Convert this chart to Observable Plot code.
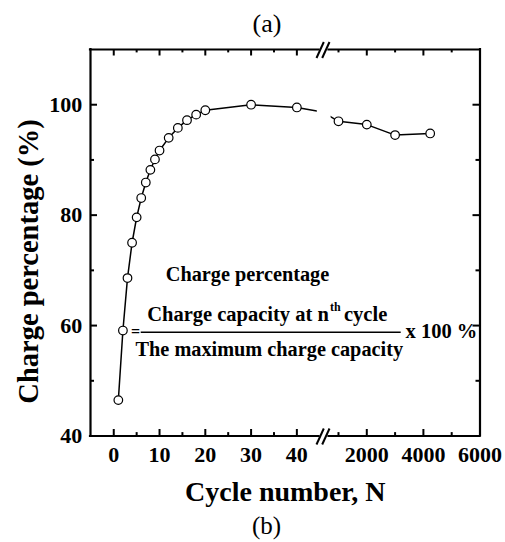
<!DOCTYPE html>
<html>
<head>
<meta charset="utf-8">
<script src="https://cdn.jsdelivr.net/npm/d3@7"></script>
<script src="https://cdn.jsdelivr.net/npm/@observablehq/plot@0.6"></script>
<style>
  html, body { margin: 0; padding: 0; background: #fff; }
</style>
</head>
<body>
<div id="chart"></div>
<script>
// ---- data ----
const cycles = [1, 2, 3, 4, 5, 6, 7, 8, 9, 10, 12, 14, 16, 18, 20, 30, 40, 100, 1000, 2000, 3000, 4240];
const charge = [46.5, 59.1, 68.6, 75.0, 79.6, 83.1, 85.9, 88.2, 90.1, 91.7, 94.0, 95.8, 97.2, 98.2, 99.0, 100.0, 99.5, 98.7, 97.0, 96.4, 94.5, 94.8];
const xMajorTicks = [0, 10, 20, 30, 40, 2000, 4000];
const xMinorTicks = [5, 15, 25, 35, 1000, 3000, 5000];
const xTickLabels = [0, 10, 20, 30, 40, 2000, 4000, 6000];
const yMajorTicks = [60, 80, 100];
const yMinorTicks = [50, 70, 90];
const yTickLabels = [40, 60, 80, 100];
const xTitle = "Cycle number, N";
const yTitle = "Charge percentage (%)";

const rows = cycles.map((c, i) => ({cycle: c, charge: charge[i]}));

// ---- broken (piecewise) x scale ----
const W = 505, H = 542;
const mL = 90, mR = 25.5, mT = 49, mB = 106.5;
const breakPx = 322;
const xDomain = [-5.08, 45.6, 435, 6000];
const xRange = [mL, breakPx, breakPx, W - mR];
const yDomain = [40, 110];
const yRange = [H - mB, mT];
const X = d3.scaleLinear().domain(xDomain).range(xRange);
const Y = d3.scaleLinear().domain(yDomain).range(yRange);
const xMin = xDomain[0], xMax = xDomain[3];
const fx = px => X.invert(px);
const fy = py => Y.invert(py);

const serif = "'Liberation Serif', 'Times New Roman', serif";
const K = "black";

// tick lengths
const majX = 6.5, minX = 3.4, majY = 7, minY = 4;

const slashes = [
  // bottom
  {x1: fx(316), y1: fy(H - mB + 8.5), x2: fx(323.3), y2: fy(H - mB - 7.5)},
  {x1: fx(321.7), y1: fy(H - mB + 8.5), x2: fx(329), y2: fy(H - mB - 7.5)},
  // top
  {x1: fx(316), y1: fy(mT + 8.5), x2: fx(323.3), y2: fy(mT - 7.5)},
  {x1: fx(321.7), y1: fy(mT + 8.5), x2: fx(329), y2: fy(mT - 7.5)}
];

const chart = Plot.plot({
  width: W,
  height: H,
  marginLeft: mL, marginRight: mR, marginTop: mT, marginBottom: mB,
  style: {fontFamily: serif, background: "white", color: K, overflow: "visible"},
  x: {type: "linear", domain: xDomain, range: xRange, axis: null},
  y: {type: "linear", domain: yDomain, range: yRange, axis: null},
  marks: [
    // series
    Plot.line(rows, {x: "cycle", y: "charge", stroke: K, strokeWidth: 1.5}),
    Plot.dot(rows, {x: "cycle", y: "charge", r: 4.3, fill: "white", stroke: K, strokeWidth: 1.2}),
    // axis-break gap
    Plot.rect([0], {x1: fx(316.8), x2: fx(330.6), y1: fy(130), y2: fy(90), fill: "white"}),

    // frame
    Plot.ruleX([xMin, xMax], {stroke: K, strokeWidth: 2.2, strokeLinecap: "square"}),
    Plot.ruleY(yDomain, {x1: xMin, x2: fx(318.5), stroke: K, strokeWidth: 2.2, strokeLinecap: "square"}),
    Plot.ruleY(yDomain, {x1: fx(328.5), x2: xMax, stroke: K, strokeWidth: 2.2, strokeLinecap: "square"}),
    Plot.link(slashes, {x1: "x1", y1: "y1", x2: "x2", y2: "y2", stroke: K, strokeWidth: 2}),

    // x ticks (inward, bottom and top)
    Plot.ruleX(xMajorTicks, {y1: 40, y2: fy(H - mB - majX), stroke: K, strokeWidth: 2}),
    Plot.ruleX(xMinorTicks, {y1: 40, y2: fy(H - mB - minX), stroke: K, strokeWidth: 2}),
    Plot.ruleX(xMajorTicks, {y1: 110, y2: fy(mT + majX), stroke: K, strokeWidth: 2}),
    Plot.ruleX(xMinorTicks, {y1: 110, y2: fy(mT + minX), stroke: K, strokeWidth: 2}),
    // y ticks (inward, left and right)
    Plot.ruleY(yMajorTicks, {x1: xMin, x2: fx(mL + majY), stroke: K, strokeWidth: 2}),
    Plot.ruleY(yMinorTicks, {x1: xMin, x2: fx(mL + minY), stroke: K, strokeWidth: 2}),
    Plot.ruleY(yMajorTicks, {x1: fx(W - mR - majY), x2: xMax, stroke: K, strokeWidth: 2}),
    Plot.ruleY(yMinorTicks, {x1: fx(W - mR - minY), x2: xMax, stroke: K, strokeWidth: 2}),

    // tick labels
    Plot.text(xTickLabels, {x: d => d, y: 40, text: d => String(d), dy: 26, lineAnchor: "bottom",
      textAnchor: "middle", fontSize: 22, fontWeight: "bold", fill: K}),
    Plot.text(yTickLabels, {x: xMin, y: d => d, text: d => String(d), dx: -8.3, textAnchor: "end",
      lineAnchor: "middle", fontSize: 22, fontWeight: "bold", fill: K}),

    // axis titles
    Plot.text([xTitle], {frameAnchor: "bottom", dy: 64.5, lineAnchor: "bottom", text: d => d,
      fontSize: 28, fontWeight: "bold", fill: K}),
    Plot.text([yTitle], {x: fx(37.5), y: fy(261), rotate: -90, lineAnchor: "bottom", textAnchor: "middle",
      text: d => d, fontSize: 28.5, fontWeight: "bold", fill: K}),

    // panel labels
    Plot.text(["(a)"], {x: fx(266.5), y: fy(31), lineAnchor: "bottom", text: d => d,
      fontSize: 26, fill: K}),
    Plot.text(["(b)"], {x: fx(266), y: fy(533.5), lineAnchor: "bottom", text: d => d,
      fontSize: 25, fill: K}),

    // formula annotation
    Plot.text(["Charge percentage"], {x: fx(247), y: fy(280.7), lineAnchor: "bottom", textAnchor: "middle",
      text: d => d, fontSize: 20.3, fontWeight: "bold", fill: K}),
    Plot.text(["Charge capacity at n"], {x: fx(146.7), y: fy(320.7), lineAnchor: "bottom", textAnchor: "start",
      text: d => d, fontSize: 20.5, fontWeight: "bold", fill: K}),
    Plot.text(["th"], {x: fx(146.7), y: fy(310.5), dx: 182.8, lineAnchor: "bottom", textAnchor: "start",
      text: d => d, fontSize: 12, fontWeight: "bold", fill: K}),
    Plot.text(["cycle"], {x: fx(146.7), y: fy(320.7), dx: 196.8, lineAnchor: "bottom", textAnchor: "start",
      text: d => d, fontSize: 20.5, fontWeight: "bold", fill: K}),
    Plot.ruleY([fy(331.7)], {x1: fx(140.7), x2: fx(400.7), stroke: K, strokeWidth: 1.5}),
    Plot.text(["The maximum charge capacity"], {x: fx(135), y: fy(355), lineAnchor: "bottom", textAnchor: "start",
      text: d => d, fontSize: 20.3, fontWeight: "bold", fill: K}),
    Plot.text(["="], {x: fx(135), y: fy(331.5), lineAnchor: "middle", textAnchor: "middle",
      text: d => d, fontSize: 16, fontWeight: "bold", fill: K}),
    Plot.text(["x 100 %"], {x: fx(405), y: fy(337.3), lineAnchor: "bottom", textAnchor: "start",
      text: d => d, fontSize: 20.5, fontWeight: "bold", fill: K})
  ]
});

document.getElementById("chart").append(chart);
</script>
</body>
</html>
